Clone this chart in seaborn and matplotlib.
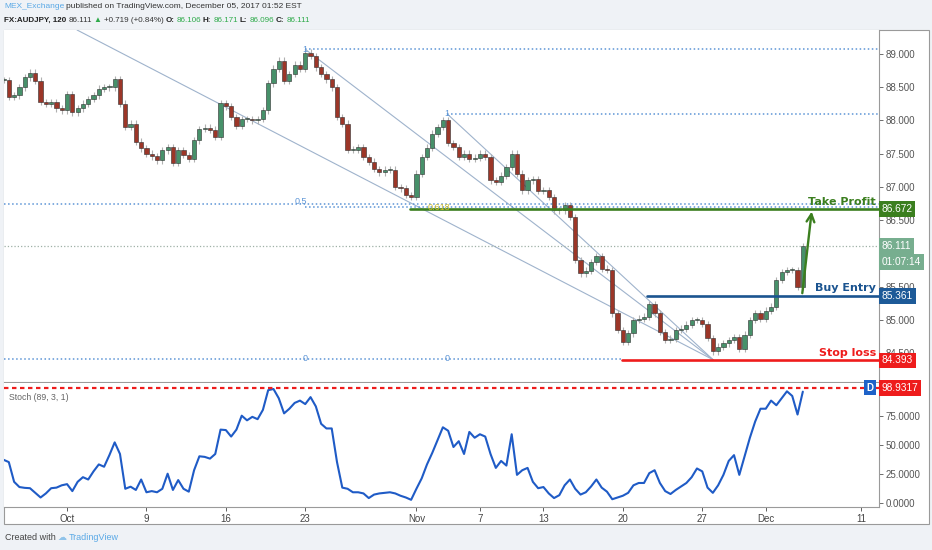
import numpy as np
import pandas as pd
import matplotlib
matplotlib.use("Agg")
import matplotlib.pyplot as plt
import seaborn as sns
from matplotlib.patches import Rectangle

# AUDJPY 120 - closes, one value every 1/3 trading day
closes = [88.61, 88.35, 88.38, 88.50, 88.65, 88.72, 88.60, 88.28, 88.25, 88.28,
          88.18, 88.15, 88.40, 88.12, 88.18, 88.25, 88.32, 88.38, 88.48, 88.50,
          88.50, 88.62, 88.25, 87.90, 87.95, 87.68, 87.58, 87.50, 87.46, 87.40,
          87.55, 87.60, 87.36, 87.55, 87.48, 87.42, 87.70, 87.87, 87.89, 87.86,
          87.75, 88.26, 88.21, 88.05, 87.92, 88.02, 88.02, 88.00, 88.02, 88.15,
          88.56, 88.78, 88.90, 88.60, 88.70, 88.84, 88.78, 89.02, 88.97, 88.80,
          88.70, 88.62, 88.50, 88.05, 87.95, 87.56, 87.56, 87.60, 87.45, 87.38,
          87.27, 87.22, 87.26, 87.26, 87.00, 86.98, 86.88, 86.85, 87.20, 87.45,
          87.59, 87.80, 87.90, 88.00, 87.66, 87.60, 87.45, 87.50, 87.42, 87.44,
          87.50, 87.45, 87.10, 87.08, 87.17, 87.30, 87.50, 87.20, 86.95, 87.10,
          87.12, 86.94, 86.95, 86.85, 86.65, 86.65, 86.73, 86.55, 85.90, 85.70,
          85.74, 85.87, 85.96, 85.77, 85.75, 85.10, 84.85, 84.67, 84.80, 85.00,
          85.02, 85.05, 85.24, 85.10, 84.82, 84.70, 84.72, 84.85, 84.87, 84.93,
          85.00, 85.00, 84.94, 84.73, 84.53, 84.60, 84.65, 84.70, 84.74, 84.57,
          84.78, 85.00, 85.10, 85.02, 85.14, 85.20, 85.60, 85.72, 85.75, 85.75,
          85.50, 86.11]

stoch_k = [37, 35, 18, 13.5, 12.8, 12.5, 8.5, 4.5, 8, 12.5,
           13, 15, 16, 10, 18, 22, 20, 27, 33, 31,
           41, 52, 42, 12, 13.8, 11, 20, 9, 10, 9,
           12, 25, 11, 19.5, 12, 9.5, 28, 40, 39.5, 38,
           42, 63, 62.6, 57, 63, 75, 71, 74, 72, 80,
           97, 98, 90, 77, 81, 86, 88, 85, 91, 83,
           68, 64, 64, 35, 13, 12, 9, 9, 8, 4,
           7, 8, 8.5, 9, 8, 6, 4.5, 2.5, 12, 21,
           33, 43, 54, 65, 62, 48, 53, 42, 61, 56,
           59, 57, 42, 30, 36, 32, 59, 24, 28, 30,
           18, 12.5, 13.5, 8, 4, 6.5, 15, 20, 12, 7,
           9, 14, 20, 13, 9.5, 3, 4.5, 6, 8.5, 15,
           17, 17, 25.5, 28, 17, 10, 7.5, 11, 14, 17,
           22, 29.5, 27, 13, 8.5, 15, 24, 36, 41, 24,
           40, 56, 70, 81, 81, 88, 84, 90, 96, 92,
           76, 95.7]

start_day = -4.0
step = 1 / 3

date_ticks = [0, 5, 10, 15, 22, 26, 30, 35, 40, 44, 50]
date_labels = ["Oct", "9", "16", "23", "Nov", "7", "13", "20", "27", "Dec", "11"]

price_ticks = [84.5, 85.0, 85.5, 86.0, 86.5, 87.0, 87.5, 88.0, 88.5, 89.0]
hidden_ticks = [86.0]  # covered by the last-price box

# drawing-tool levels
fib_one_a = 89.07
fib_one_b = 88.10
fib_half = 86.745
fib_618 = 86.694
fib_zero = 84.42
take_profit = 86.672
buy_entry = 85.361
stop_loss = 84.393
last_price = 86.111
stoch_last = 98.9317

# anchor days of the drawings
fib_a_day = 15.0
fib_b_day = 23.93
tp_day = 21.6
sl_day = 34.95
be_day = 36.52
swing_low_day = 40.68
arrow_days = [46.28, 46.91]
fan_starts = [(0.63, 89.36), (15.0, 89.07), (23.93, 88.10)]

up_col = "#47916a"
down_col = "#9c3628"
fib_col = "#5d95d6"
green = "#3b7f1f"
blue = "#1b5490"
red = "#ee1c1c"

sns.set_style("white")
plt.rcParams["font.family"] = ["Liberation Sans", "DejaVu Sans"]

df = pd.DataFrame({"close": closes})
df["x"] = start_day + step * np.arange(len(df))
df["open"] = df["close"].shift(1).fillna(df["close"])
wick_pad = 0.05
df["hi"] = df[["open", "close"]].max(axis=1) + wick_pad
df["lo"] = df[["open", "close"]].min(axis=1) - wick_pad

st = pd.DataFrame({"x": start_day + step * np.arange(len(stoch_k)), "k": stoch_k})

fig = plt.figure(figsize=(9.32, 5.5), dpi=100, facecolor="#eff2f6")
W, H = 932, 550

# white chart frame behind the panels
fig.patches.append(Rectangle((4 / W, 1 - 524 / H), 925 / W, 494 / H, transform=fig.transFigure,
                             facecolor="white", edgecolor="#9a9a9a", lw=0.8, zorder=-10))

ax = fig.add_axes([4 / W, 1 - 381.5 / H, 875 / W, 351.5 / H])
ax2 = fig.add_axes([4 / W, 1 - 507 / H, 875 / W, 124.5 / H], sharex=ax)
xlim = (-3.97, 51.13)

# candles
col = np.where(df["close"] >= df["open"], up_col, down_col)
ax.vlines(df["x"], df["lo"], df["hi"], color="#b0b0b0", lw=0.8, zorder=2)
body = (df["close"] - df["open"]).abs().clip(lower=0.015)
ax.bar(df["x"], body, bottom=df[["open", "close"]].min(axis=1), width=step * 0.8,
       color=col, edgecolor="#2e2e2e", linewidth=0.4, zorder=3)

# fan / trend lines to the swing low
for sx, sy in fan_starts:
    ax.plot([sx, swing_low_day], [sy, stop_loss + 0.01], color="#9fb3cc", lw=0.8, zorder=1)

# fib levels
ax.plot([fib_a_day, xlim[1]], [fib_one_a, fib_one_a], ls=":", color=fib_col, lw=1.1, zorder=1)
ax.plot([fib_b_day, xlim[1]], [fib_one_b, fib_one_b], ls=":", color=fib_col, lw=1.1, zorder=1)
ax.plot(xlim, [fib_half, fib_half], ls=":", color=fib_col, lw=1.1, zorder=1)
ax.plot([fib_a_day, xlim[1]], [fib_618, fib_618], ls=":", color=fib_col, lw=1.1, zorder=1)
ax.plot([xlim[0], sl_day], [fib_zero, fib_zero], ls=":", color=fib_col, lw=1.1, zorder=1)
ax.plot(xlim, [last_price, last_price], ls=":", color="#9fb0a6", lw=0.9, zorder=1)
fs = 6.5
ax.text(fib_a_day, fib_one_a, "1", color=fib_col, fontsize=fs, ha="center", va="center", zorder=5)
ax.text(fib_b_day, fib_one_b, "1", color=fib_col, fontsize=fs, ha="center", va="center", zorder=5)
ax.text(fib_a_day + 0.1, fib_half + 0.03, "0.5", color=fib_col, fontsize=fs, ha="right", va="center", zorder=5)
ax.text(23.4, fib_618, "0.618", color="#d2bd2a", fontsize=fs, ha="center", va="center", zorder=5)
ax.text(fib_a_day, fib_zero, "0", color=fib_col, fontsize=fs, ha="center", va="center", zorder=5)
ax.text(fib_b_day, fib_zero, "0", color=fib_col, fontsize=fs, ha="center", va="center", zorder=5)

# trade levels
ax.plot([tp_day, xlim[1]], [take_profit, take_profit], color=green, lw=1.9, zorder=4)
ax.plot([be_day, xlim[1]], [buy_entry, buy_entry], color=blue, lw=1.9, zorder=4)
ax.plot([sl_day, xlim[1]], [stop_loss, stop_loss], color=red, lw=1.9, zorder=4)
ax.annotate("", xy=(arrow_days[1], take_profit), xytext=(arrow_days[0], buy_entry),
            arrowprops=dict(arrowstyle="->", color=green, lw=1.7, mutation_scale=14), zorder=6)
lab = dict(fontsize=8, fontweight="bold", ha="right", family="DejaVu Sans", zorder=6)
ax.text(50.94, take_profit + 0.03, "Take Profit", color=green, va="bottom", **lab)
ax.text(50.94, buy_entry + 0.04, "Buy Entry", color=blue, va="bottom", **lab)
ax.text(50.94, stop_loss + 0.04, "Stop loss", color=red, va="bottom", **lab)

ax.set_xlim(xlim)
ax.set_ylim(84.075, 89.36)
ax.yaxis.tick_right()
ax.set_yticks(price_ticks)
ax.set_yticklabels(["" if v in hidden_ticks else f"{v:.3f}" for v in price_ticks])
ax.tick_params(axis="y", labelsize=7, colors="#555555", length=3, pad=2, width=0.6)
ax.tick_params(axis="x", bottom=False, labelbottom=False)
for s in ["top", "left"]:
    ax.spines[s].set_visible(False)
for s in ["right", "bottom"]:
    ax.spines[s].set_color("#9a9a9a")
    ax.spines[s].set_linewidth(0.8)

ytr = ax.get_yaxis_transform()
def price_box(a, tr, y, txt, fc):
    a.text(1.003, y, txt, transform=tr, ha="left", va="center", color="white", fontsize=7.3,
           bbox=dict(boxstyle="square,pad=0.28", fc=fc, ec="none"), clip_on=False, zorder=10)

price_box(ax, ytr, take_profit, "86.672", green)
price_box(ax, ytr, last_price, "86.111", "#77ae8f")
price_box(ax, ytr, 85.87, "01:07:14", "#77ae8f")
price_box(ax, ytr, buy_entry, "85.361", "#1d5a98")
price_box(ax, ytr, stop_loss, "84.393", red)

# stochastic panel
sns.lineplot(data=st, x="x", y="k", ax=ax2, color="#1f5bc6", lw=1.5)
ax2.axhline(stoch_last, color=red, lw=1.6, ls=(0, (2, 1.6)), zorder=4)
ax2.set_ylim(-3.7, 103.6)
ax2.yaxis.tick_right()
ax2.set_yticks([0, 25, 50, 75])
ax2.set_yticklabels([f"{v:.4f}" for v in [0, 25, 50, 75]])
ax2.tick_params(axis="y", labelsize=7, colors="#555555", length=3, pad=2, width=0.6)
ax2.set_xticks(date_ticks)
ax2.set_xticklabels(date_labels)
ax2.tick_params(axis="x", labelsize=7, colors="#444444", length=3, pad=2, width=0.6, bottom=True)
ax2.set_xlabel("")
ax2.set_ylabel("")
for s in ["top", "left"]:
    ax2.spines[s].set_visible(False)
for s in ["right", "bottom"]:
    ax2.spines[s].set_color("#9a9a9a")
    ax2.spines[s].set_linewidth(0.8)
ax2.text(0.006, 0.86, "Stoch (89, 3, 1)", transform=ax2.transAxes, fontsize=6.3, color="#666666")
ax2.text(0.9897, stoch_last, "D", transform=ax2.get_yaxis_transform(), ha="center", va="center",
         color="white", fontsize=7, fontweight="bold",
         bbox=dict(boxstyle="square,pad=0.25", fc="#1e62c8", ec="none"), zorder=10)
price_box(ax2, ax2.get_yaxis_transform(), stoch_last, "98.9317", red)

# header and footer, pieces placed one after the other
renderer = fig.canvas.get_renderer()
def chain(parts, x0, y, size, gap=2.0):
    x = x0
    for txt, color, weight in parts:
        t = fig.text(x, y, txt, color=color, fontsize=size, fontweight=weight, va="center", ha="left")
        bb = t.get_window_extent(renderer)
        x = bb.x1 / fig.bbox.width + gap / W

chain([("MEX_Exchange", "#5aa9e6", "normal"),
       ("published on TradingView.com, December 05, 2017 01:52 EST", "#333333", "normal")],
      4 / W, 1 - 7 / H, 6.0)
tg = "#2eaa4a"
chain([("FX:AUDJPY, 120", "#222222", "bold"), ("86.111", "#333333", "normal"),
       ("\u25b2", tg, "normal"), ("+0.719 (+0.84%)", "#333333", "normal"),
       ("O:", "#222222", "bold"), ("86.106", tg, "normal"),
       ("H:", "#222222", "bold"), ("86.171", tg, "normal"),
       ("L:", "#222222", "bold"), ("86.096", tg, "normal"),
       ("C:", "#222222", "bold"), ("86.111", tg, "normal")],
      4 / W, 1 - 20 / H, 5.8, gap=2.0)
chain([("Created with", "#444444", "normal"), ("\u2601", "#8fc3ea", "normal"),
       ("TradingView", "#5aa9e6", "normal")],
      5 / W, 1 - 537 / H, 6.5)

fig.savefig("out.png", dpi=100, facecolor=fig.get_facecolor())
